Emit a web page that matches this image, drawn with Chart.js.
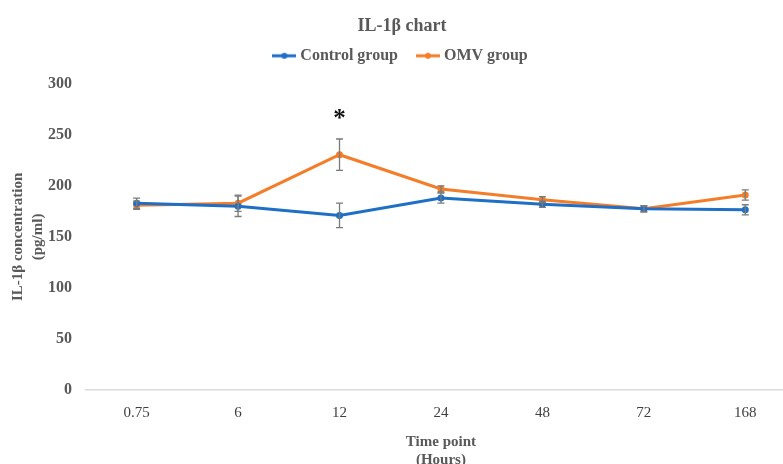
<!DOCTYPE html>
<html>
<head>
<meta charset="utf-8">
<script src="https://cdn.jsdelivr.net/npm/chart.js@4"></script>
<style>
  html, body { margin: 0; padding: 0; background: #fff; overflow: hidden; }
  #wrap { width: 800px; height: 480px; }
</style>
</head>
<body>
<div id="wrap"><canvas id="myChart" width="800" height="480"></canvas></div>
<script>
// time points (hours)
var labels = ['0.75', '6', '12', '24', '48', '72', '168'];
// IL-1b values
var control = [183, 180, 171, 188, 182, 177.5, 176.5];
var controlErr = [5, 10, 12, 5, 3, 3, 5];
var omv = [181, 183, 230.5, 197, 186.5, 177.5, 191];
var omvErr = [4, 8, 15.4, 3, 3, 3, 5];
// significance marks per time point
var marks = ['', '', '*', '', '', '', ''];
var yTicks = [0, 50, 100, 150, 200, 250, 300];

var blue = '#1F6FC6';
var orange = '#F47D2A';
var grey = '#595959';
var serif = "'Liberation Serif', 'Times New Roman', serif";

function legendMarker(color) {
    var c = document.createElement('canvas');
    c.width = 24; c.height = 10;
    var g = c.getContext('2d');
    g.strokeStyle = color;
    g.lineWidth = 3;
    g.beginPath(); g.moveTo(0, 5); g.lineTo(24, 5); g.stroke();
    g.fillStyle = color;
    g.beginPath(); g.arc(12, 5, 3, 0, Math.PI * 2); g.fill();
    return c;
}

// extra room under the legend
var legendGap = {
    id: 'legendGap',
    beforeInit: function (chart) {
        var fit = chart.legend.fit;
        chart.legend.fit = function () {
            fit.bind(chart.legend)();
            this.height += 10;
        };
    }
};

// error bars + asterisk, drawn with the chart scales
var errorBars = {
    id: 'errorBars',
    afterDatasetsDraw: function (chart) {
        var ctx = chart.ctx;
        var y = chart.scales.y;
        ctx.save();
        ctx.strokeStyle = '#7a7a7a';
        ctx.lineWidth = 1.3;
        chart.data.datasets.forEach(function (ds, di) {
            var meta = chart.getDatasetMeta(di);
            ds.data.forEach(function (v, i) {
                var e = ds.errors[i];
                var px = meta.data[i].x;
                var top = y.getPixelForValue(v + e);
                var bot = y.getPixelForValue(v - e);
                ctx.beginPath();
                ctx.moveTo(px, top); ctx.lineTo(px, bot);
                ctx.moveTo(px - 3.5, top); ctx.lineTo(px + 3.5, top);
                ctx.moveTo(px - 3.5, bot); ctx.lineTo(px + 3.5, bot);
                ctx.stroke();
            });
        });
        ctx.fillStyle = '#111';
        ctx.font = 'bold 25px ' + serif;
        ctx.textAlign = 'center';
        ctx.textBaseline = 'middle';
        marks.forEach(function (m, i) {
            if (!m) return;
            var hi = Math.max(omv[i] + omvErr[i], control[i] + controlErr[i]);
            var px = chart.getDatasetMeta(1).data[i].x;
            ctx.fillText(m, px, y.getPixelForValue(hi) - 19);
        });
        ctx.restore();
    }
};

var ctx = document.getElementById('myChart').getContext('2d');
var chart = new Chart(ctx, {
    type: 'line',
    data: {
        labels: labels,
        datasets: [{
            label: 'Control group',
            data: control,
            errors: controlErr,
            borderColor: blue,
            backgroundColor: blue,
            borderWidth: 3,
            pointStyle: 'circle',
            pointRadius: 3.5,
            pointBorderWidth: 0,
            tension: 0
        }, {
            label: 'OMV group',
            data: omv,
            errors: omvErr,
            borderColor: orange,
            backgroundColor: orange,
            borderWidth: 3,
            pointStyle: 'circle',
            pointRadius: 3.5,
            pointBorderWidth: 0,
            tension: 0
        }]
    },
    options: {
        responsive: false,
        animation: false,
        layout: { padding: { left: 8, right: 4, top: 0, bottom: 11 } },
        plugins: {
            title: {
                display: true,
                text: 'IL-1\u03b2 chart',
                color: grey,
                font: { family: serif, size: 18, weight: 'bold' },
                padding: { top: 16, bottom: -11.8 }
            },
            legend: {
                display: true,
                labels: {
                    usePointStyle: true,
                    color: grey,
                    font: { family: serif, size: 16, weight: 'bold' },
                    padding: 22,
                    boxWidth: 24,
                    boxHeight: 10,
                    generateLabels: function (ch) {
                        return ch.data.datasets.map(function (ds, i) {
                            return {
                                text: ds.label,
                                pointStyle: legendMarker(ds.borderColor),
                                fontColor: grey,
                                datasetIndex: i,
                                lineWidth: 0,
                                strokeStyle: ds.borderColor,
                                fillStyle: ds.borderColor
                            };
                        });
                    }
                }
            },
            tooltip: { enabled: false }
        },
        scales: {
            x: {
                offset: true,
                grid: { display: false, drawTicks: false },
                border: { display: true, color: '#d9d9d9', width: 1.5 },
                ticks: {
                    color: '#404040',
                    padding: 14,
                    font: { family: serif, size: 15 }
                },
                title: {
                    display: true,
                    text: ['Time point', '(Hours)'],
                    color: grey,
                    font: { family: serif, size: 15, weight: 'bold', lineHeight: 1.2 },
                    padding: { top: -3, bottom: 0 }
                }
            },
            y: {
                min: 0,
                max: 300,
                afterBuildTicks: function (axis) {
                    axis.ticks = yTicks.map(function (v) { return { value: v }; });
                },
                grid: { display: false, drawTicks: false },
                border: { display: false },
                ticks: {
                    color: grey,
                    padding: 14,
                    font: { family: serif, size: 16, weight: 'bold' }
                },
                title: {
                    display: true,
                    text: ['IL-1\u03b2 concentration', '(pg/ml)'],
                    color: grey,
                    font: { family: serif, size: 15, weight: 'bold', lineHeight: 1.33 },
                    padding: { top: 0, bottom: -14 }
                }
            }
        }
    },
    plugins: [errorBars, legendGap]
});
</script>
</body>
</html>
